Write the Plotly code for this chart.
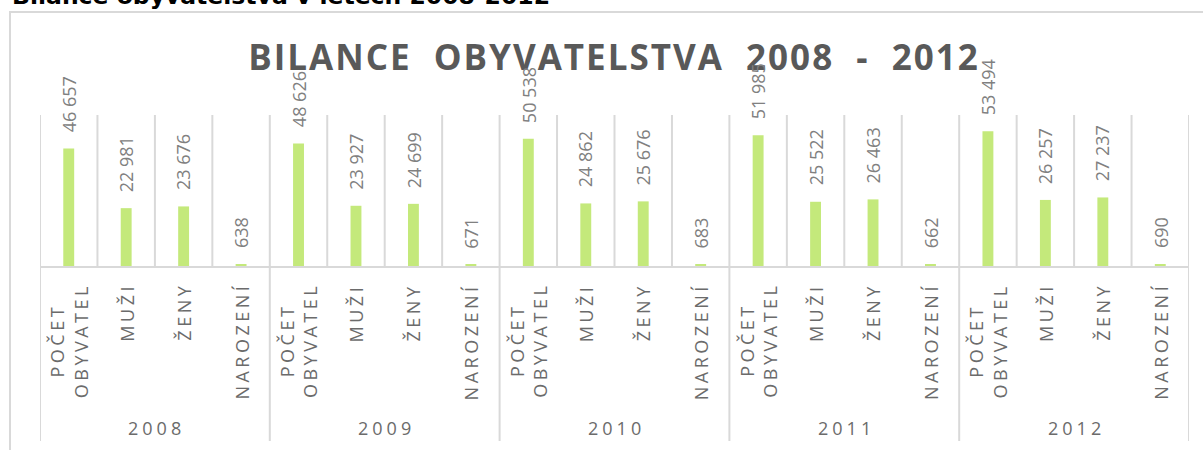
import plotly.graph_objects as go

years = ["2008", "2009", "2010", "2011", "2012"]
categories = ["POČET<br>OBYVATEL", "MUŽI", "ŽENY", "NAROZENÍ"]
pocet_obyvatel = [46657, 48626, 50538, 51985, 53494]
muzi = [22981, 23927, 24862, 25522, 26257]
zeny = [23676, 24699, 25676, 26463, 27237]
narozeni = [638, 671, 683, 662, 690]

# flatten to one bar per (year, category)
series = [pocet_obyvatel, muzi, zeny, narozeni]
values, labels = [], []
for i, year in enumerate(years):
    for cat, s in zip(categories, series):
        values.append(s[i])
        labels.append(cat)
x = list(range(len(values)))

# plot area in pixels
W, H = 1203, 450
PL, PR, PT, PB = 40, 1189, 115, 266
GREY_LINE = "#d9d9d9"


def py(pix):
    return (PB - pix) / (PB - PT)


def px(pix):
    return (pix - PL) / (PR - PL)


def spaced(text, sp):
    return f'<span style="letter-spacing:{sp}px">{text}</span>'


fig = go.Figure()
fig.add_trace(
    go.Bar(x=x, y=values, marker=dict(color="#c4e97b", line=dict(width=0)),
           hoverinfo="skip")
)

annotations = []
# data labels, rotated
for xi, v in zip(x, values):
    annotations.append(dict(
        x=xi, y=v, xref="x", yref="y", text=f"{v:,}".replace(",", " "),
        textangle=-90, showarrow=False, yanchor="bottom", yshift=14,
        font=dict(family="Open Sans", size=18, color="#808080"),
    ))
# category labels
for xi, lab in zip(x, labels):
    annotations.append(dict(
        x=xi, y=0, xref="x", yref="paper", text=spaced(lab, 3.5),
        textangle=-90, showarrow=False, yanchor="top", yshift=-15,
        font=dict(family="Open Sans", size=18, color="#6b6b6b"),
    ))
# year labels
n = len(categories)
for i, year in enumerate(years):
    annotations.append(dict(
        x=i * n + (n - 1) / 2, y=0, xref="x", yref="paper", text=spaced(year, 4),
        showarrow=False, yanchor="middle", yshift=-(428 - PB), xshift=2,
        font=dict(family="Open Sans", size=18, color="#6b6b6b"),
    ))
# clipped document heading above the chart
annotations.append(dict(
    x=px(10), y=1, xref="paper", yref="paper", xanchor="left", yanchor="bottom",
    yshift=PT - 12, showarrow=False,
    text="<b>Bilance obyvatelstva v letech 2008-2012</b>",
    font=dict(family="DejaVu Sans", size=23.5, color="#000000"),
))

shapes = []
# separators between categories; year separators run down through the labels
for k in range(len(values) + 1):
    shapes.append(dict(
        type="line", xref="x", yref="paper", x0=k - 0.5, x1=k - 0.5,
        y0=py(441) if k % n == 0 else 0, y1=1,
        line=dict(color=GREY_LINE, width=2),
    ))
# chart frame
shapes.append(dict(
    type="rect", xref="paper", yref="paper", x0=px(10), x1=px(1230),
    y0=py(480), y1=py(12), line=dict(color=GREY_LINE, width=2),
    layer="below",
))

title_txt = "\u00a0\u00a0".join(["BILANCE", "OBYVATELSTVA", "2008", "-", "2012"])
fig.update_layout(
    width=W, height=H,
    margin=dict(l=PL, r=W - PR, t=PT, b=H - PB, pad=0),
    paper_bgcolor="white", plot_bgcolor="white",
    showlegend=False, bargap=0.81,
    title=dict(
        text=spaced(title_txt, 2), x=px(614), xanchor="center",
        xref="paper", y=1 - 58 / H, yanchor="middle", yref="container",
        font=dict(family="Open Sans", size=35, color="#595959", weight="bold"),
    ),
    xaxis=dict(range=[-0.5, len(values) - 0.5], showgrid=False, zeroline=False,
               showticklabels=False, ticks="", showline=True,
               linecolor=GREY_LINE, linewidth=2, fixedrange=True),
    yaxis=dict(range=[0, 60000], visible=False, fixedrange=True),
    annotations=annotations,
    shapes=shapes,
)

# drop the default page margin so the figure sits at the window's corner
fig.write_html("out.html", config={"displayModeBar": False},
               post_script="document.body.style.margin='0';")
